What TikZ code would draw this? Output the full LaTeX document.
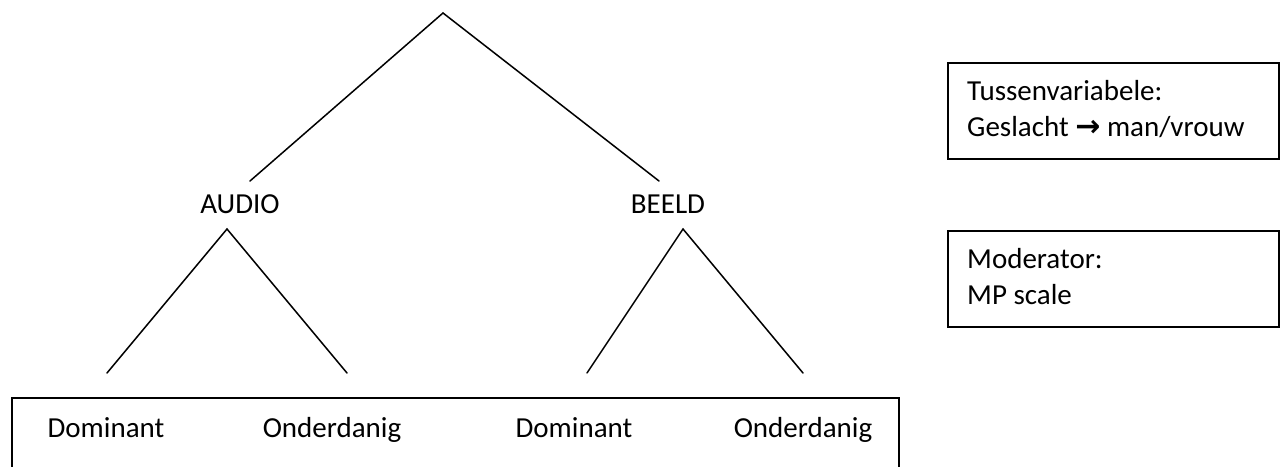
\documentclass[tikz,border=0pt]{standalone}
\usepackage{fontspec}
\setmainfont{Carlito}
\newfontfamily\symfont{DejaVu Sans}
\begin{document}
\begin{tikzpicture}[x=1pt,y=-1pt,
  treeline/.style={line width=1.5pt, line cap=round},
  lbl/.style={anchor=base, inner sep=0pt, font=\fontsize{29}{36}\selectfont},
  lblw/.style={anchor=base west, inner sep=0pt, font=\fontsize{29}{36}\selectfont},
  infobox/.style={draw, line width=2pt, anchor=north west, minimum width=331pt, minimum height=96pt, inner sep=0pt}]
\clip (0,0) rectangle (1285,466);
\fill[white] (0,0) rectangle (1285,466);
% tree coordinates
\coordinate (top) at (443,13);
\coordinate (topL) at (250,181);
\coordinate (topR) at (659,181);
\coordinate (audioTop) at (227,229);
\coordinate (audioL) at (107,373);
\coordinate (audioR) at (347,373);
\coordinate (beeldTop) at (683,229);
\coordinate (beeldL) at (587,373);
\coordinate (beeldR) at (803,373);
% labels
\node[lbl] (audio) at (240,213) {AUDIO};
\node[lbl] (beeld) at (668,213) {BEELD};
% lines
\draw[treeline] (topL) -- (top) -- (topR);
\draw[treeline] (audioL) -- (audioTop) -- (audioR);
\draw[treeline] (beeldL) -- (beeldTop) -- (beeldR);
% bottom box
\node[draw, line width=2pt, anchor=north west, minimum width=887pt, minimum height=90pt, inner sep=0pt] (bottom) at (11,397) {};
\node[lbl] (dom1) at (106,437) {Dominant};
\node[lbl] (ond1) at (332,437) {Onderdanig};
\node[lbl] (dom2) at (574,437) {Dominant};
\node[lbl] (ond2) at (803,437) {Onderdanig};
% right boxes
\node[infobox] (tvbox) at (947,62) {};
\node[lblw] (tv1) at (967,100) {Tussenvariabele:};
\node[lblw] (tv2) at (967,136) {Geslacht {\symfont\bfseries\fontsize{30}{36}\selectfont →} man/vrouw};
\node[infobox] (modbox) at (947,230) {};
\node[lblw] (mod1) at (967,268) {Moderator:};
\node[lblw] (mod2) at (967,304) {MP scale};
\end{tikzpicture}
\end{document}
